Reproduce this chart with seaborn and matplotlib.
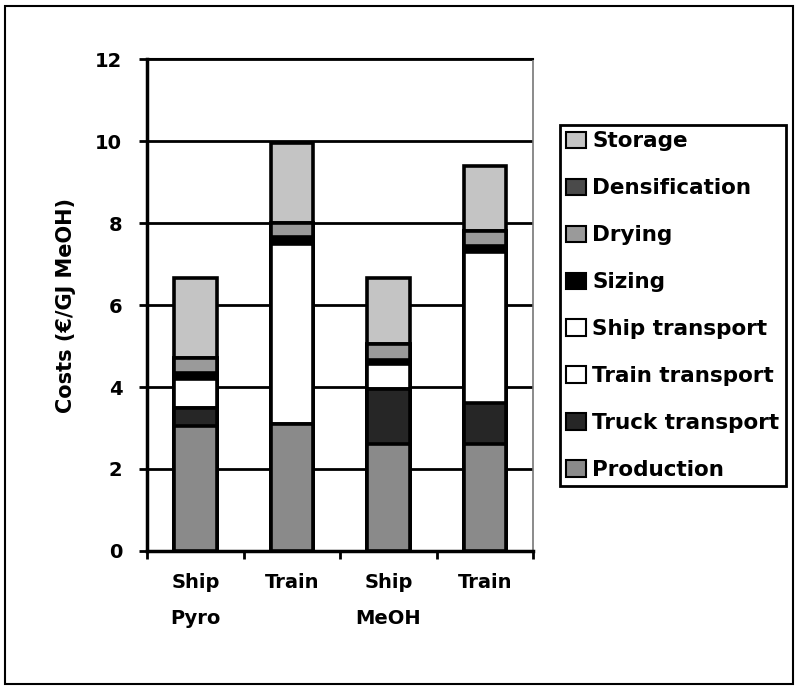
import numpy as np
import pandas as pd
import seaborn as sns
import matplotlib.pyplot as plt
from matplotlib.patches import Patch, Rectangle

# Scenario labels (tick text) and cost components in €/GJ MeOH
scenarios = ["Ship\nPyro", "Train", "Ship\nMeOH", "Train"]
production = [3.05, 3.10, 2.60, 2.60]
truck_transport = [0.45, 0.00, 1.35, 1.00]
train_transport = [0.00, 4.40, 0.00, 3.70]
ship_transport = [0.70, 0.00, 0.60, 0.00]
sizing = [0.15, 0.15, 0.10, 0.15]
drying = [0.35, 0.35, 0.40, 0.35]
densification = [0.00, 0.00, 0.00, 0.00]
storage = [1.95, 1.95, 1.60, 1.60]

# Stack order, bottom to top, with fill shades
components = [
    ("Production", production, "#8a8a8a"),
    ("Truck transport", truck_transport, "#262626"),
    ("Train transport", train_transport, "#ffffff"),
    ("Ship transport", ship_transport, "#ffffff"),
    ("Sizing", sizing, "#000000"),
    ("Drying", drying, "#9a9a9a"),
    ("Densification", densification, "#4a4a4a"),
    ("Storage", storage, "#c4c4c4"),
]

sns.set_theme(style="white")
plt.rcParams["font.family"] = ["DejaVu Sans"]
plt.rcParams["font.weight"] = "bold"
plt.rcParams["text.color"] = "black"
plt.rcParams["axes.labelcolor"] = "black"
plt.rcParams["xtick.color"] = "black"
plt.rcParams["ytick.color"] = "black"

fig = plt.figure(figsize=(7.96, 6.87), dpi=100)
ax = fig.add_axes([0.185, 0.198, 0.485, 0.716])

keys = [f"s{i}" for i in range(len(scenarios))]
cum = np.zeros(len(scenarios))
layers = []
for name, vals, color in components:
    cum = cum + np.array(vals)
    layers.append((name, cum.copy(), color))

# Draw cumulative totals from the top layer down so each segment shows
for name, tops, color in reversed(layers):
    df = pd.DataFrame({"scenario": keys, "cost": tops})
    sns.barplot(data=df, x="scenario", y="cost", order=keys, color=color,
                width=0.44, edgecolor="black", linewidth=2.6, saturation=1,
                ax=ax, zorder=3, errorbar=None)

ax.set_ylim(0, 12)
ax.set_xlim(-0.5, 3.5)
ax.set_yticks(np.arange(0, 13, 2))
ax.set_yticklabels([str(v) for v in range(0, 13, 2)], fontsize=14, fontweight="bold")
ax.grid(axis="y", color="black", linewidth=2, zorder=0)
ax.set_axisbelow(True)

ax.set_xticks(range(len(scenarios)))
ax.set_xticklabels(scenarios, fontsize=14, fontweight="bold", linespacing=2.1)
ax.set_xticks(np.arange(-0.5, 4.0, 1.0), minor=True)
ax.tick_params(axis="x", which="major", length=0, pad=16)
ax.tick_params(axis="x", which="minor", length=6, width=2, direction="out", color="black", bottom=True)
ax.tick_params(axis="y", which="major", length=6, width=2, direction="out", color="black", left=True, pad=12)
ax.set_xlabel("")
ax.set_ylabel("Costs (€/GJ MeOH)", fontsize=15, fontweight="bold", labelpad=14)

for side in ["left", "bottom"]:
    ax.spines[side].set_color("black")
    ax.spines[side].set_linewidth(2.5)
ax.spines["top"].set_color("black")
ax.spines["top"].set_linewidth(1.5)
ax.spines["right"].set_color("#777777")
ax.spines["right"].set_linewidth(1.2)

handles = [Patch(facecolor=c, edgecolor="black", linewidth=1.5, label=n)
           for n, _, c in reversed(components)]
leg = fig.legend(handles=handles, loc="upper left", bbox_to_anchor=(0.7035, 0.818),
                 frameon=True, fancybox=False, edgecolor="black", framealpha=1,
                 prop={"size": 15.5, "weight": "bold"}, handlelength=0.9,
                 handleheight=0.8, handletextpad=0.3, labelspacing=1.25,
                 borderpad=0.3, borderaxespad=0)
leg.get_frame().set_linewidth(2)

# Outer figure frame
fig.patches.append(Rectangle((0.006, 0.004), 0.99, 0.987, transform=fig.transFigure,
                             fill=False, edgecolor="black", linewidth=1.5))

fig.savefig("out.png", dpi=100, facecolor="white")
